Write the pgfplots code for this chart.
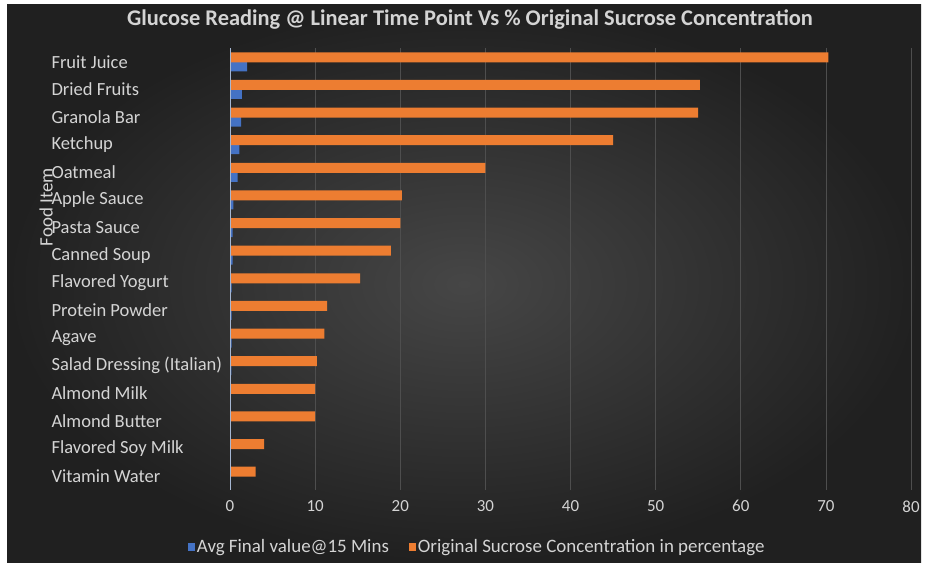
\documentclass[border=0pt]{standalone}
\usepackage{pgfplots}
\pgfplotsset{compat=1.18}
\usepackage{fontspec}
\setmainfont{Carlito}
\definecolor{bgin}{RGB}{70,70,70}
\definecolor{bgout}{RGB}{32,32,32}
\definecolor{txt}{RGB}{212,212,212}
\definecolor{xblue}{RGB}{68,114,196}
\definecolor{xorange}{RGB}{237,125,49}
\definecolor{gridc}{RGB}{78,78,78}
\definecolor{axc}{RGB}{165,182,210}
\pgfplotstableread{
y blue orange
0 0.05 3
1 0.1 4
2 0.1 10
3 0.1 10
4 0.15 10.2
5 0.2 11.1
6 0.2 11.4
7 0.2 15.3
8 0.3 18.9
9 0.3 20
10 0.4 20.2
11 0.9 30
12 1.1 45
13 1.3 55
14 1.4 55.2
15 2.0 70.3
}\datatable
\begin{document}
\begin{tikzpicture}[x=1bp,y=1bp]
\fill[white] (0,0) rectangle (928,569);
\shade[inner color=bgin, outer color=bgout] (7,6) rectangle (921,564);
\node[text=txt, font=\bfseries\fontsize{22.5}{24}\selectfont] at (470,549) {Glucose Reading @ Linear Time Point Vs \% Original Sucrose Concentration};
\node[text=txt, rotate=90, font=\fontsize{19}{21}\selectfont] at (46,362) {Food Item};
\begin{axis}[
  at={(230bp,79bp)}, anchor=south west,
  scale only axis, width=681bp, height=442bp,
  xbar, bar width=10bp,
  xmin=0, xmax=80, ymin=-0.5, ymax=15.5,
  xtick={0,10,...,80},
  ytick={0,...,15},
  yticklabels={Vitamin Water, Flavored Soy Milk, Almond Butter, Almond Milk, Salad Dressing (Italian), Agave, Protein Powder, Flavored Yogurt, Canned Soup, Pasta Sauce, Apple Sauce, Oatmeal, Ketchup, Granola Bar, Dried Fruits, Fruit Juice},
  major tick length=0pt,
  axis line style={draw=none},
  xmajorgrids, grid style={gridc, line width=0.7pt},
  tick label style={text=txt},
  yticklabel style={anchor=west, xshift=-182bp, font=\fontsize{18.6}{20}\selectfont},
  xticklabel style={yshift=-7bp, font=\fontsize{17}{19}\selectfont},
  /pgf/number format/assume math mode=true,
  legend style={at={(0.363,-0.129)}, anchor=center, draw=none, fill=none, text=txt, font=\fontsize{19}{21}\selectfont, legend columns=2, /tikz/every even column/.append style={column sep=18bp}},
  legend image code/.code={\fill[#1] (0bp,-4bp) rectangle (7bp,4bp);},
]
\addplot[fill=xblue, draw=none, bar shift=-4.5bp] table[x=blue, y=y] {\datatable};
\addlegendentry{Avg Final value@15 Mins}
\addplot[fill=xorange, draw=none, bar shift=4.5bp] table[x=orange, y=y] {\datatable};
\addlegendentry{Original Sucrose Concentration in percentage}
\draw[axc, line width=0.9pt] (axis cs:0,-0.5) -- (axis cs:0,15.5);
\end{axis}
\end{tikzpicture}
\end{document}
